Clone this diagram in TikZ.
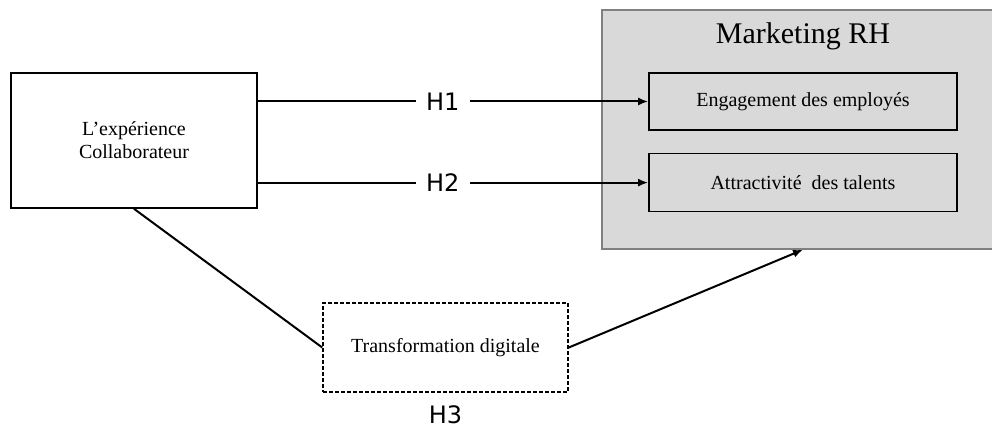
\documentclass[tikz,border=0pt]{standalone}
\usepackage{fontspec}
\setmainfont{Liberation Serif}
\newfontfamily\hfont{DejaVu Sans}
\usetikzlibrary{arrows.meta}
\usetikzlibrary{positioning}
\definecolor{panelgray}{HTML}{D9D9D9}
\definecolor{paneledge}{HTML}{808080}

\begin{document}
\begin{tikzpicture}[x=0.5pt,y=-0.5pt]
    \tikzset{
      >={Latex[length=5pt,width=4pt]},
      box/.style={draw, line width=0.8pt, align=center, font=\fontsize{10}{11.5}\selectfont},
      panel/.style={draw=paneledge, line width=0.7pt, fill=panelgray},
      hyp/.style={fill=white, inner xsep=5pt, font=\hfont\fontsize{12}{14}\selectfont},
      link/.style={line width=1pt},
    }
    \useasboundingbox (0,0) rectangle (992,427);

    \node[box, minimum width=123pt, minimum height=67.5pt] (exp) at (134,140.5)
      {L’expérience\\Collaborateur};
    \node[panel, minimum width=196pt, minimum height=119.5pt] (mk) at (798,129.5) {};
    \node[font=\fontsize{15}{18}\selectfont] (mktitle) at (803,36) {Marketing RH};
    \node[box, fill=panelgray, minimum width=154pt, minimum height=28.5pt] (eng) at (803,101.5)
      {Engagement des employés};
    \node[box, fill=panelgray, minimum width=154pt, minimum height=29pt, below=11pt of eng] (att)
      {Attractivité~ des talents};
    \node[box, dash pattern=on 2pt off 1pt, minimum width=122.5pt, minimum height=44.5pt] (td) at (445.5,347.5)
      {Transformation digitale};
    \node[hyp, fill=none, inner ysep=1pt, below=5pt of td] (h3) {H3};

    \draw[link, ->] (eng.west -| exp.east) -- node[hyp, pos=0.474] {H1} (eng.west);
    \draw[link, ->] (att.west -| exp.east) -- node[hyp, pos=0.474] {H2} (att.west);
    \draw[link] (exp.south) -- (td.west);
    \draw[link, ->] (td.east) -- (eng.south |- mk.south);
  \end{tikzpicture}
\end{document}
